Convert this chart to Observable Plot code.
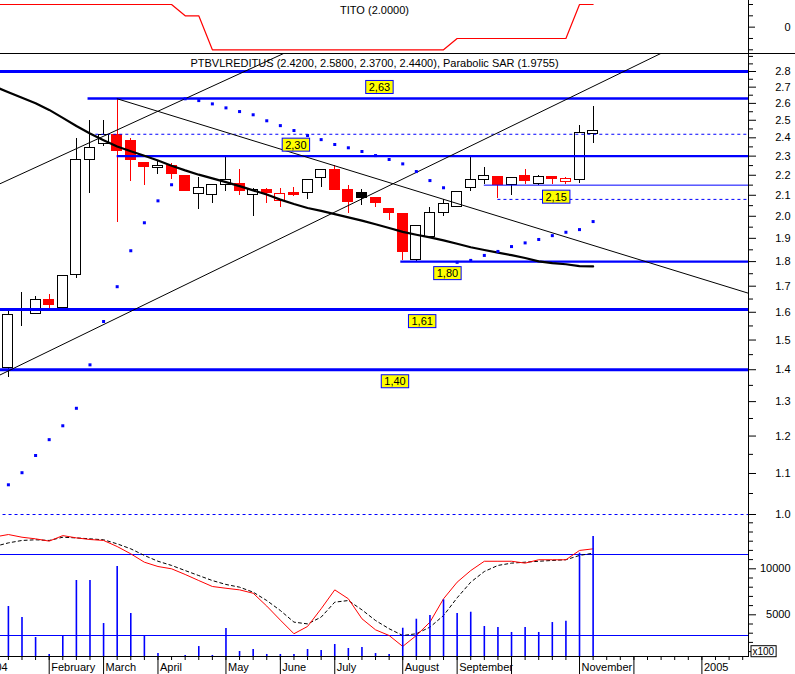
<!DOCTYPE html>
<html>
<head>
<meta charset="utf-8">
<script src="https://cdn.jsdelivr.net/npm/d3@7"></script>
<script src="https://cdn.jsdelivr.net/npm/@observablehq/plot@0.6"></script>
<style>
  html, body { margin: 0; padding: 0; background: #fff; }
  #chart { position: relative; width: 795px; height: 674px; overflow: hidden; background: #fff; }
  #chart svg { position: absolute; left: 0; top: 0; }
</style>
</head>
<body>
<div id="chart"></div>
<script>
// ---------------- data ----------------
const ticker = "PTBVLREDITUS";
const weeks = ["2004-01-09","2004-01-16","2004-01-23","2004-01-30","2004-02-06","2004-02-13","2004-02-20","2004-02-27",
  "2004-03-05","2004-03-12","2004-03-19","2004-03-26","2004-04-02","2004-04-09","2004-04-16","2004-04-23","2004-04-30",
  "2004-05-07","2004-05-14","2004-05-21","2004-05-28","2004-06-04","2004-06-11","2004-06-18","2004-06-25",
  "2004-07-02","2004-07-09","2004-07-16","2004-07-23","2004-07-30","2004-08-06","2004-08-13","2004-08-20","2004-08-27",
  "2004-09-03","2004-09-10","2004-09-17","2004-09-24","2004-10-01","2004-10-08","2004-10-15","2004-10-22","2004-10-29",
  "2004-11-05","2004-11-12"];
const open  = [null,1.406,1.603,1.594,1.647,1.617,1.745,2.28,2.368,2.418,2.385,2.266,2.238,2.249,2.194,2.107,2.102,2.153,2.157,2.102,2.128,2.07,2.11,2.11,2.187,2.229,2.128,2.109,2.086,2.036,2.011,1.807,1.905,2.016,2.043,2.137,2.177,2.19,2.153,2.194,2.157,2.19,2.165,2.177,2.42];
const high  = [null,1.61,1.674,1.66,1.667,1.739,2.394,2.498,2.498,2.628,2.398,2.266,2.277,2.262,2.194,2.187,2.15,2.294,2.229,2.135,2.135,2.135,2.139,2.177,2.229,2.249,2.148,2.128,2.086,2.036,2.011,1.957,2.04,2.08,2.117,2.294,2.238,2.19,2.187,2.23,2.2,2.19,2.19,2.469,2.58];
const low   = [null,1.376,1.549,1.594,1.611,1.612,1.73,2.11,2.352,1.973,2.17,2.148,2.202,2.178,2.12,2.03,2.062,2.12,2.1,2.0,2.062,2.043,2.095,2.081,2.139,2.127,2.011,2.049,2.04,1.98,1.805,1.8,1.905,2.0,2.043,2.12,2.152,2.083,2.099,2.153,2.15,2.153,2.153,2.16,2.37];
const close = [null,1.59,1.61,1.647,1.626,1.739,2.282,2.345,2.417,2.326,2.28,2.241,2.249,2.205,2.12,2.137,2.15,2.177,2.12,2.127,2.11,2.107,2.1,2.177,2.229,2.127,2.067,2.086,2.062,2.014,1.84,1.957,2.016,2.059,2.117,2.177,2.195,2.153,2.187,2.17,2.19,2.183,2.18,2.428,2.44];
const sar   = [null,1.0715,1.102,1.147,1.19,1.229,1.28,1.416,1.566,1.698,1.846,1.97,2.073,2.152,2.628,2.617,2.597,2.573,2.551,2.532,2.497,2.469,2.441,2.413,2.39,2.363,2.345,2.325,2.303,2.282,2.259,2.219,2.173,2.137,1.797,1.805,1.826,1.843,1.864,1.88,1.895,1.912,1.927,1.939,1.9755];
const movAvg = [2.704,2.668,2.634,2.601,2.561,2.514,2.467,2.424,2.387,2.352,2.326,2.302,2.277,2.249,2.225,2.203,2.184,2.165,2.145,2.124,2.104,2.079,2.058,2.039,2.025,2.01,1.995,1.98,1.963,1.946,1.929,1.916,1.904,1.891,1.876,1.861,1.849,1.838,1.827,1.815,1.801,1.794,1.789,1.781,1.78];
const volume = [null,5900,4700,2530,690,2720,8730,8730,4050,10250,5140,2720,790,300,580,1550,580,3510,1010,1230,690,690,690,1230,1120,1770,1340,1450,790,690,3540,4520,4920,6630,5140,5280,3730,3620,3080,3620,3080,4160,4300,11700,13510];
const stochK = [93,94.8,92.8,91.6,89.9,94,92.3,91.1,90.4,85.9,80.5,74.3,71.1,69.4,65.2,60.7,56.3,55,53.8,51.3,41.8,31.4,21.3,26.7,39.8,53.8,47.2,32.4,24.2,20,11.9,20,29.9,47.2,59.5,68.1,75,75,75,73.6,76.1,76.1,76.1,83,84.2];
const stochD = [86,88.6,90.4,90.9,90.4,92.8,92.3,91.6,90.9,87.9,84.2,79.3,75,71.9,68.1,64.4,60.7,57.8,55.8,52.1,45.9,38.5,29.9,28.6,33.6,44.7,45.9,39,31.1,25,20,21.3,26.2,34.8,47.9,59.5,67.4,71.9,73.6,74.3,75,75.6,76.1,79.3,81];
const tito = [2,2,2,2,2,2,2,2,2,2,2,2,2,2,1,1,-2,-2,-2,-2,-2,-2,-2,-2,-2,-2,-2,-2,-2,-2,-2,-2,-2,-2,-1,-1,-1,-1,-1,-1,-1,-1,-1,2,2];
const stochLevels = [20, 80];

// support / resistance levels
const heavyLevelPrice = [2.8, 1.61, 1.40];
const levelPrice = [2.63, 2.30, 1.80];
const levelStart = ["2004-02-26", "2004-03-12", "2004-08-05"];
const dashedLevelPrice = [2.42, 2.08, 1.0];
const dashedLevelStart = ["2004-03-01", "2004-09-24", "2003-12-01"];
const thinLevelPrice = [2.15];
const thinLevelStart = ["2004-09-17"];
const levelEnd = "2005-03-31";

// level labels
const labelAbovePrice = [2.63, 2.30];
const labelAboveDate = ["2004-07-25", "2004-06-12"];
const labelBelowPrice = [2.15, 1.80, 1.61, 1.40];
const labelBelowDate = ["2004-10-24", "2004-08-29", "2004-08-16", "2004-08-02"];

// trend lines (two points each)
const trendLowerDates = ["2004-01-09", "2004-12-31"], trendLowerPrices = [1.375, 3.012];
const trendUpperDates = ["2004-01-09", "2004-06-11"], trendUpperPrices = [2.145, 2.952];
const trendDownDates  = ["2004-03-12", "2005-02-04"], trendDownPrices  = [2.628, 1.663];

// axis ticks
const priceTicks = [1.0,1.1,1.2,1.3,1.4,1.5,1.6,1.7,1.8,1.9,2.0,2.1,2.2,2.3,2.4,2.5,2.6,2.7,2.8];
const priceMinorTicks = [1.05,1.15,1.25,1.35,1.45,1.55,1.65,1.75,1.85,1.95,2.05,2.15,2.25,2.35,2.45,2.55,2.65,2.75,2.85,2.9];
const volumeTicks = [5000, 10000];
const volumeMinorTicks = [1000,2000,3000,4000,6000,7000,8000,9000,11000,12000,13000,14000,15000];
const titoTicks = [0];
const titoMinorTicks = [-2, -1, 1, 2];
const monthTickDates = ["2004-01-02","2004-02-06","2004-03-05","2004-04-02","2004-05-07","2004-06-04","2004-07-02",
  "2004-08-06","2004-09-03","2004-10-01","2004-11-05","2004-12-03","2005-01-07"];
const monthLabels = ["2004","February","March","April","May","June","July","August","September","","November","","2005"];

// ---------------- build ----------------
const RED = "#ff0000", BLUE = "#0000ff";
const FONT = "'Liberation Sans', Arial, sans-serif";
const D = s => new Date(s + "T00:00:00Z");
const shiftDays = (d, n) => new Date(+d + n * 864e5);

const rows = weeks.map((w, k) => ({
  date: D(w), open: open[k], high: high[k], low: low[k], close: close[k],
  sar: sar[k], ma: movAvg[k], vol: volume[k], k: stochK[k], d: stochD[k], tito: tito[k]
}));
const candles = rows.filter(r => r.open != null).map((r, k, arr) => {
  const prev = k > 0 ? arr[k - 1].close : r.open;
  const down = r.close < prev;
  const bear = r.close < r.open;
  return {...r, edge: down ? RED : "black", body: bear ? (down ? RED : "black") : "white"};
});
const mkLevels = (prices, starts) => prices.map((p, k) => ({price: p, start: D(starts ? starts[k] : "2003-12-01"), end: D(levelEnd)}));
const heavyLevels = mkLevels(heavyLevelPrice);
const levels = mkLevels(levelPrice, levelStart);
const dashedLevels = mkLevels(dashedLevelPrice, dashedLevelStart);
const thinLevels = mkLevels(thinLevelPrice, thinLevelStart);
const fmtLevel = p => d3.format(".2f")(p).replace(".", ",");
const labelsAbove = labelAbovePrice.map((p, k) => ({price: p, date: D(labelAboveDate[k]), text: fmtLevel(p)}));
const labelsBelow = labelBelowPrice.map((p, k) => ({price: p, date: D(labelBelowDate[k]), text: fmtLevel(p)}));
const mkTrend = (ds, ps) => ds.map((d, k) => ({date: D(d), price: ps[k]}));
const trends = [mkTrend(trendLowerDates, trendLowerPrices), mkTrend(trendUpperDates, trendUpperPrices), mkTrend(trendDownDates, trendDownPrices)];
const monthTicks = monthTickDates.map((d, k) => ({date: D(d), label: monthLabels[k]}));
const weekTicks = d3.utcFriday.range(D("2004-01-01"), D("2005-02-01"));

const last = candles[candles.length - 1];
const f4 = v => v.toFixed(4);
const mainTitle = `${ticker} (${[last.open, last.high, last.low, last.close].map(f4).join(", ")}), Parabolic SAR (${f4(last.sar)})`;
const titoTitle = `TITO (${f4(tito[tito.length - 1])})`;

const W = 795, H = 674;
const xScale = {type: "utc", domain: [D("2004-01-02"), D("2005-01-07")], range: [-19.3, 701.4], axis: null};
const baseStyle = {background: "transparent", fontFamily: FONT, fontSize: "11px", overflow: "visible"};
const panel = {width: W, height: H, marginTop: 53, marginBottom: 18, marginLeft: 0, marginRight: 47};

// main price panel
const mainPlot = Plot.plot({
  ...panel, style: baseStyle,
  x: xScale,
  y: {type: "log", domain: [1, 2.8], range: [514, 71], label: null},
  color: {type: "identity"},
  marks: [
    Plot.ruleX(candles, {x: "date", y1: "low", y2: "high", stroke: "edge", strokeWidth: 1, shapeRendering: "crispEdges"}),
    Plot.rect(candles, {x1: d => shiftDays(d.date, -3.5), x2: d => shiftDays(d.date, 3.5), y1: "open", y2: "close",
      fill: "body", stroke: "edge", strokeWidth: 1, insetLeft: 1.8, insetRight: 1.8, shapeRendering: "crispEdges"}),
    Plot.ruleY(heavyLevels, {y: "price", x1: "start", x2: "end", stroke: BLUE, strokeWidth: 3, clip: true}),
    Plot.ruleY(levels, {y: "price", x1: "start", x2: "end", stroke: BLUE, strokeWidth: 2.4, clip: true}),
    Plot.ruleY(dashedLevels, {y: "price", x1: "start", x2: "end", stroke: BLUE, strokeWidth: 1, strokeDasharray: "3,3", clip: true}),
    Plot.ruleY(thinLevels, {y: "price", x1: "start", x2: "end", stroke: BLUE, strokeWidth: 1, clip: true}),
    ...trends.map(t => Plot.line(t, {x: "date", y: "price", stroke: "black", strokeWidth: 1, clip: true})),
    Plot.line(rows, {x: "date", y: "ma", stroke: "black", strokeWidth: 2.2, clip: true}),
    Plot.dot(rows.filter(r => r.sar != null), {x: "date", y: "sar", symbol: "square", r: 1.7, fill: BLUE, stroke: "none", clip: true}),
    Plot.text(labelsAbove, {x: "date", y: "price", text: "text", dy: -11, fill: "black", lineAnchor: "middle", ariaDescription: "levelLabel"}),
    Plot.text(labelsBelow, {x: "date", y: "price", text: "text", dy: 12, fill: "black", lineAnchor: "middle", ariaDescription: "levelLabel"}),
    Plot.text([mainTitle], {frameAnchor: "top", dy: 10, lineAnchor: "middle", fill: "black"}),
    Plot.frame({anchor: "right", stroke: "black"}),
    Plot.axisY({anchor: "right", ticks: priceTicks, tickSize: 7, tickPadding: 35, textAnchor: "end", tickFormat: d3.format(".1f"), label: null}),
    Plot.axisY({anchor: "right", ticks: priceMinorTicks, tickSize: 4, tickFormat: () => "", label: null})
  ]
});

// stochastic panel
const stochPlot = Plot.plot({
  ...panel, style: baseStyle,
  x: xScale,
  y: {domain: [0, 100], range: [662, 527], axis: null},
  marks: [
    Plot.ruleY(stochLevels, {y: d => d, stroke: BLUE, strokeWidth: 1}),
    Plot.line(rows, {x: "date", y: "d", stroke: "black", strokeWidth: 1, strokeDasharray: "3,3", clip: true}),
    Plot.line(rows, {x: "date", y: "k", stroke: RED, strokeWidth: 1, clip: true})
  ]
});

// volume panel + time axis
const volPlot = Plot.plot({
  ...panel, style: baseStyle,
  x: {...xScale},
  y: {domain: [0, 10000], range: [660.3, 568.3], label: null},
  marks: [
    Plot.ruleX(rows.filter(r => r.vol != null), {x: "date", y1: 0, y2: "vol", stroke: BLUE, strokeWidth: 1.6, clip: true}),
    Plot.frame({anchor: "bottom", stroke: "black"}),
    Plot.axisX({anchor: "bottom", ticks: weekTicks, tickSize: 4, tickFormat: () => "", label: null}),
    Plot.axisX({anchor: "bottom", ticks: monthTicks.map(m => m.date), tickSize: 18, tickFormat: () => "", label: null}),
    Plot.text(monthTicks, {x: "date", text: "label", frameAnchor: "bottom", dy: 11, dx: 2, textAnchor: "start", lineAnchor: "middle", fill: "black"}),
    Plot.axisY({anchor: "right", ticks: volumeTicks, tickSize: 7, tickPadding: 35, textAnchor: "end", tickFormat: d3.format("d"), label: null}),
    Plot.axisY({anchor: "right", ticks: volumeMinorTicks, tickSize: 4, tickFormat: () => "", label: null}),
    Plot.text(["x100"], {frameAnchor: "bottom-right", dx: 4, dy: -5, textAnchor: "start", lineAnchor: "middle", fontSize: 10, fill: "black", ariaDescription: "unitLabel"})
  ]
});

// TITO panel
const titoPlot = Plot.plot({
  width: W, height: H, marginTop: 0, marginBottom: H - 53, marginLeft: 0, marginRight: 0,
  style: baseStyle,
  x: xScale,
  y: {domain: [-2, 2], range: [49.3, 4], label: null},
  marks: [
    Plot.line(rows, {x: "date", y: "tito", stroke: RED, strokeWidth: 1.2, clip: true}),
    Plot.text([titoTitle], {frameAnchor: "top", dy: 10, dx: -23.5, lineAnchor: "middle", fill: "black"}),
    Plot.frame({anchor: "bottom", stroke: "black"}),
    Plot.frame({anchor: "right", stroke: "black", dx: -47}),
    Plot.axisY({anchor: "right", dx: -47, ticks: titoTicks, tickSize: 6, tickPadding: 36, textAnchor: "end", tickFormat: d => String(d), label: null}),
    Plot.axisY({anchor: "right", dx: -47, ticks: titoMinorTicks, tickSize: 4, tickFormat: () => "", label: null})
  ]
});

const chart = document.getElementById("chart");
[mainPlot, stochPlot, volPlot, titoPlot].forEach(p => chart.appendChild(p));

function boxify(svg, label, fill, stroke, px, py) {
  const found = new Set([
    ...svg.querySelectorAll(`[aria-description="${label}"] text`),
    ...svg.querySelectorAll(`text[aria-label="${label}"]`)
  ]);
  found.forEach(t => {
    const b = t.getBBox();
    const r = document.createElementNS("http://www.w3.org/2000/svg", "rect");
    r.setAttribute("x", b.x - px);
    r.setAttribute("y", b.y - py);
    r.setAttribute("width", b.width + 2 * px);
    r.setAttribute("height", b.height + 2 * py);
    r.setAttribute("fill", fill);
    r.setAttribute("stroke", stroke);
    r.setAttribute("stroke-width", 1);
    const tr = t.getAttribute("transform");
    if (tr) r.setAttribute("transform", tr);
    t.parentNode.insertBefore(r, t);
  });
}
boxify(mainPlot, "levelLabel", "#ffff00", BLUE, 3, 0.5);
boxify(volPlot, "unitLabel", "white", "black", 1.5, 0);
</script>
</body>
</html>
